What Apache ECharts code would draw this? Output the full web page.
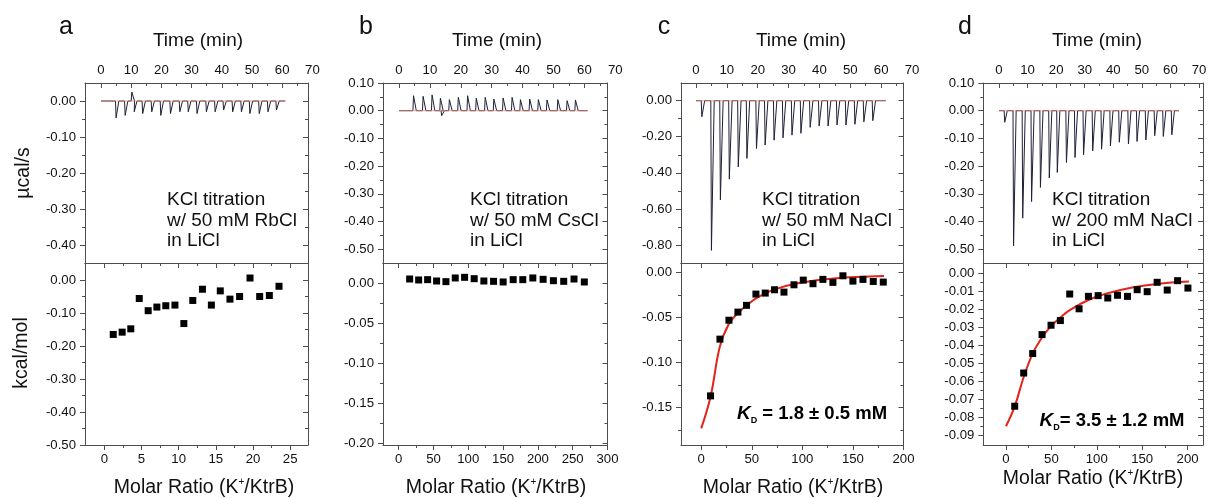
<!DOCTYPE html>
<html><head><meta charset="utf-8">
<script src="https://cdn.jsdelivr.net/npm/echarts@6/dist/echarts.min.js"></script>
<style>html,body{margin:0;padding:0;background:#fff}#c{width:1214px;height:498px}</style>
</head><body><div id="c"></div>
<script>
// ================= DATA =================
const timeLabels = [0, 10, 20, 30, 40, 50, 60, 70];
const timeMinor = [5, 15, 25, 35, 45, 55, 65];

// ---- panel a : KCl titration w/ 50 mM RbCl ----
const injTimeA = [4.9, 7.9, 10.1, 10.9, 13.7, 16.7, 19.7, 22.9, 26.0, 28.8, 31.7, 34.8, 37.7, 40.5, 43.5, 46.4, 49.2, 52.3, 55.2, 58.0];
const injPeakA = [-0.047, -0.040, 0.025, -0.030, -0.035, -0.030, -0.040, -0.035, -0.030, -0.030, -0.035, -0.030, -0.030, -0.025, -0.030, -0.030, -0.035, -0.035, -0.030, -0.025];
const traceEndA = 61;
const ratioA = [1.2, 2.4, 3.56, 4.7, 5.9, 7.07, 8.27, 9.5, 10.7, 11.9, 13.2, 14.4, 15.6, 16.9, 18.2, 19.6, 20.9, 22.2, 23.5];
const heatA = [-0.165, -0.158, -0.148, -0.056, -0.093, -0.082, -0.078, -0.076, -0.132, -0.062, -0.028, -0.076, -0.033, -0.058, -0.050, 0.006, -0.050, -0.047, -0.019];
const topYLabelsA = [0, -0.1, -0.2, -0.3, -0.4];
const topYMinorA = [-0.05, -0.15, -0.25, -0.35];
const botYLabelsA = [0, -0.1, -0.2, -0.3, -0.4, -0.5];
const botYMinorA = [-0.05, -0.15, -0.25, -0.35, -0.45];
const botXLabelsA = [0, 5, 10, 15, 20, 25];
const botXMinorA = [2.5, 7.5, 12.5, 17.5, 22.5];

// ---- panel b : KCl titration w/ 50 mM CsCl ----
const injTimeB = [4.6, 7.7, 10.6, 13.3, 13.7, 16.2, 19.1, 22.1, 24.9, 27.8, 30.6, 33.6, 36.5, 39.2, 42.2, 45.0, 47.8, 51.3, 54.3, 57.0];
const injPeakB = [0.054, 0.052, 0.057, 0.045, -0.018, 0.040, 0.048, 0.054, 0.045, 0.048, 0.042, 0.046, 0.048, 0.040, 0.042, 0.040, 0.039, 0.040, 0.036, 0.039];
const traceEndB = 61;
const ratioB = [15.8, 28.7, 41.6, 54.5, 67.9, 81.3, 94.7, 108.5, 122.4, 136.3, 150.1, 164.5, 178.3, 192.7, 207.5, 222.3, 237.1, 251.9, 266.7];
const heatB = [0.0054, 0.0042, 0.0046, 0.0029, 0.0021, 0.0067, 0.0075, 0.0058, 0.0029, 0.0025, 0.0017, 0.0046, 0.0046, 0.0067, 0.0050, 0.0033, 0.0025, 0.0054, 0.0017];
const topYLabelsB = [0.1, 0, -0.1, -0.2, -0.3, -0.4, -0.5];
const topYMinorB = [0.05, -0.05, -0.15, -0.25, -0.35, -0.45];
const botYLabelsB = [0, -0.05, -0.1, -0.15, -0.2];
const botYMinorB = [-0.025, -0.075, -0.125, -0.175];
const botXLabelsB = [0, 50, 100, 150, 200, 250, 300];
const botXMinorB = [25, 75, 125, 175, 225, 275];

// ---- panel c : KCl titration w/ 50 mM NaCl ----
const injTimeC = [1.8, 4.9, 7.8, 10.7, 13.6, 16.4, 19.5, 22.3, 25.2, 28.1, 31.0, 33.9, 36.9, 39.8, 42.7, 45.6, 48.5, 51.4, 54.3, 57.2];
const injPeakC = [-0.089, -0.83, -0.55, -0.435, -0.367, -0.32, -0.265, -0.246, -0.219, -0.206, -0.191, -0.181, -0.148, -0.141, -0.141, -0.135, -0.135, -0.131, -0.117, -0.111];
const traceEndC = 61.5;
const ratioC = [9.2, 18.5, 27.4, 36.3, 44.8, 54.1, 63.3, 72.5, 81.8, 91.7, 100.9, 110.5, 120.3, 130.2, 140.1, 150.0, 159.9, 170.1, 180.0];
const heatC = [-0.137, -0.074, -0.053, -0.044, -0.0365, -0.024, -0.0229, -0.0192, -0.0218, -0.0137, -0.0085, -0.0125, -0.0077, -0.011, -0.0037, -0.0096, -0.0077, -0.010, -0.0107];
const fitRatioC = [0, 9.2, 18.5, 27.4, 36.3, 45.5, 55.4, 71.9, 98, 131, 180.7];
const fitHeatC = [-0.173, -0.138, -0.082, -0.057, -0.045, -0.036, -0.028, -0.019, -0.0114, -0.0066, -0.004];
const topYLabelsC = [0, -0.2, -0.4, -0.6, -0.8];
const topYMinorC = [-0.1, -0.3, -0.5, -0.7];
const botYLabelsC = [0, -0.05, -0.1, -0.15];
const botYMinorC = [-0.025, -0.075, -0.125, -0.175];
const botXLabelsC = [0, 50, 100, 150, 200];
const botXMinorC = [25, 75, 125, 175];

// ---- panel d : KCl titration w/ 200 mM NaCl ----
const injTimeD = [1.9, 5.0, 8.2, 11.3, 14.4, 17.5, 20.3, 23.5, 26.5, 29.5, 32.7, 35.8, 38.9, 42.0, 45.2, 48.2, 51.3, 54.4, 57.4, 60.4];
const injPeakD = [-0.042, -0.488, -0.388, -0.328, -0.277, -0.243, -0.223, -0.187, -0.169, -0.159, -0.145, -0.139, -0.127, -0.114, -0.120, -0.111, -0.106, -0.090, -0.093, -0.087];
const traceEndD = 63;
const ratioD = [9.6, 19.5, 29.4, 39.7, 49.6, 59.9, 70.2, 80.5, 90.8, 101.5, 112.1, 122.8, 133.8, 144.5, 155.5, 166.5, 177.6, 189.0, 200.4];
const heatD = [-0.0737, -0.0553, -0.0445, -0.034, -0.0288, -0.0262, -0.0115, -0.0197, -0.0128, -0.0124, -0.0137, -0.0122, -0.0128, -0.0091, -0.0102, -0.0050, -0.0093, -0.0041, -0.0082];
const fitRatioD = [0, 9.6, 19.5, 29.4, 39.7, 49.6, 59.9, 70.2, 90.8, 112.1, 140.4, 166.2, 201.5];
const fitHeatD = [-0.0848, -0.0738, -0.0575, -0.0445, -0.0356, -0.0293, -0.0245, -0.0204, -0.0148, -0.0111, -0.0078, -0.0059, -0.0046];
const topYLabelsD = [0.1, 0, -0.1, -0.2, -0.3, -0.4, -0.5];
const topYMinorD = [0.05, -0.05, -0.15, -0.25, -0.35, -0.45];
const botYLabelsD = [0, -0.01, -0.02, -0.03, -0.04, -0.05, -0.06, -0.07, -0.08, -0.09];
const botYMinorD = [-0.005, -0.015, -0.025, -0.035, -0.045, -0.055, -0.065, -0.075, -0.085];
const botXLabelsD = [0, 50, 100, 150, 200];
const botXMinorD = [25, 75, 125, 175];

const letters = ['a', 'b', 'c', 'd'];
const notes = [
  'KCl titration\nw/ 50 mM RbCl\nin LiCl',
  'KCl titration\nw/ 50 mM CsCl\nin LiCl',
  'KCl titration\nw/ 50 mM NaCl\nin LiCl',
  'KCl titration\nw/ 200 mM NaCl\nin LiCl'
];

// ================= LAYOUT / STYLE =================
const FONT = '"Liberation Sans", Arial, sans-serif';
const AX = '#4d4d4d';
const TXT = '#111';
const TOP = 83, MID = 263, BOT = 445;

const panels = [
  {L: 85, R: 308, x0: 101, x70: 312.4, topY: [-0.45, 0.05], botY: [-0.5, 0.0515], botX: [-2.6, 27.4],
   timeTicks: [0,10,20,30,40,50,60],
   inj: injTimeA, peak: injPeakA, end: traceEndA, rx: ratioA, ry: heatA,
   tyl: topYLabelsA, tym: topYMinorA, byl: botYLabelsA, bym: botYMinorA, bxl: botXLabelsA, bxm: botXMinorA,
   letterX: 66, timeX: 198, molarX: 204, molarY: 488, noteX: 167},
  {L: 383, R: 607.5, x0: 399, x70: 615.3, topY: [-0.55, 0.1], botY: [-0.202, 0.0254], botX: [-22.5, 300],
   timeTicks: [0,10,20,30,40,50,60],
   inj: injTimeB, peak: injPeakB, end: traceEndB, rx: ratioB, ry: heatB,
   tyl: topYLabelsB, tym: topYMinorB, byl: botYLabelsB, bym: botYMinorB, bxl: botXLabelsB, bxm: botXMinorB,
   letterX: 366, timeX: 497, molarX: 496, molarY: 488, noteX: 470},
  {L: 681, R: 903.5, x0: 696, x70: 912, topY: [-0.9, 0.098], botY: [-0.1915, 0.0105], botX: [-20, 200],
   timeTicks: [0,10,20,30,40,50,60],
   inj: injTimeC, peak: injPeakC, end: traceEndC, rx: ratioC, ry: heatC, fx: fitRatioC, fy: fitHeatC,
   tyl: topYLabelsC, tym: topYMinorC, byl: botYLabelsC, bym: botYMinorC, bxl: botXLabelsC, bxm: botXMinorC,
   letterX: 664, timeX: 801, molarX: 793, molarY: 488, noteX: 762,
   kd: '1.8 ± 0.5 mM', kdEq: ' = ', kdX: 812, kdY: 414},
  {L: 983.3, R: 1203, x0: 999, x70: 1199, topY: [-0.55, 0.1], botY: [-0.0952, 0.0057], botX: [-25, 217],
   timeTicks: [0,10,20,30,40,50,60,70],
   inj: injTimeD, peak: injPeakD, end: traceEndD, rx: ratioD, ry: heatD, fx: fitRatioD, fy: fitHeatD,
   tyl: topYLabelsD, tym: topYMinorD, byl: botYLabelsD, bym: botYMinorD, bxl: botXLabelsD, bxm: botXMinorD,
   letterX: 965, timeX: 1097, molarX: 1093, molarY: 479, noteX: 1052,
   kd: '3.5 ± 1.2 mM', kdEq: '= ', kdX: 1112, kdY: 421}
];

const grids = [], xAxes = [], yAxes = [], series = [], graphics = [];

function addGrid(l, t, r, b) {
  grids.push({left: l, top: t, width: r - l, height: b - t});
  return grids.length - 1;
}
const fmt2 = v => (Math.abs(v) < 1e-9 ? 0 : v).toFixed(2);
const fmt0 = v => String(Math.round(v));

function addAxis(list, gridIndex, pos, min, max, o) {
  const idx = list.length;
  const ax = {
    type: 'value', gridIndex, position: pos, min, max, scale: true,
    axisLine: {show: !!o.line, onZero: false, lineStyle: {color: AX, width: 1}},
    axisTick: {show: !!o.majors, inside: !!o.inside, length: 5, lineStyle: {color: AX, width: 1}},
    axisLabel: {show: !!o.labels},
    splitLine: {show: false}, minorTick: {show: false}, minorSplitLine: {show: false}
  };
  if (o.majors) ax.axisTick.customValues = o.majors;
  if (o.labels) {
    ax.axisLabel = {show: true, customValues: o.labels, formatter: o.fmt, color: TXT,
      fontSize: 13.2, fontFamily: FONT, margin: o.margin, hideOverlap: false,
      showMinLabel: true, showMaxLabel: true};
  }
  list.push(ax);
  if (o.minors) {
    list.push({type: 'value', gridIndex, position: pos, min, max, scale: true,
      axisLine: {show: false, onZero: false}, axisLabel: {show: false},
      axisTick: {show: true, customValues: o.minors, inside: !!o.inside, length: 3, lineStyle: {color: AX, width: 1}},
      splitLine: {show: false}});
  }
  return idx;
}

function spikeTrace(times, peaks, end) {
  const pts = [[0, 0]];
  for (let i = 0; i < times.length; i++) {
    const t = times[i], p = peaks[i];
    pts.push([t - 0.1, 0], [t + 0.1, p], [t + 1.0, 0]);
  }
  pts.push([end, 0]);
  return pts;
}

panels.forEach((p, k) => {
  // ---------- top box ----------
  const gTop = addGrid(p.L, TOP, p.R, MID);
  addAxis(xAxes, gTop, 'top', 0, 1, {line: true});
  addAxis(xAxes, gTop, 'bottom', 0, 1, {line: true});
  addAxis(yAxes, gTop, 'left', p.topY[0], p.topY[1], {line: true, majors: p.tyl, minors: p.tym, labels: p.tyl, fmt: fmt2, margin: 9});
  addAxis(yAxes, gTop, 'right', p.topY[0], p.topY[1], {line: true, majors: p.tyl, minors: p.tym, inside: true});
  // ---------- time axis grid ----------
  const gTime = addGrid(p.x0, TOP, p.x70, MID);
  const xt = addAxis(xAxes, gTime, 'top', 0, 70, {line: false, majors: p.timeTicks, minors: timeMinor, inside: true, labels: timeLabels, fmt: fmt0, margin: 6});
  const yt = addAxis(yAxes, gTime, 'left', p.topY[0], p.topY[1], {line: false});
  series.push({type: 'line', xAxisIndex: xt, yAxisIndex: yt, data: spikeTrace(p.inj, p.peak, p.end),
    showSymbol: false, symbol: 'none', lineStyle: {color: '#1f1f38', width: 1}, silent: true, z: 3});
  series.push({type: 'line', xAxisIndex: xt, yAxisIndex: yt, data: [[0, 0], [p.end, 0]],
    showSymbol: false, symbol: 'none', lineStyle: {color: '#e8836f', width: 0.8, opacity: 0.9}, silent: true, z: 4});

  // ---------- bottom box ----------
  const gBot = addGrid(p.L, MID, p.R, BOT);
  const xb = addAxis(xAxes, gBot, 'bottom', p.botX[0], p.botX[1], {line: true, majors: p.bxl, minors: p.bxm, labels: p.bxl, fmt: fmt0, margin: 8});
  addAxis(xAxes, gBot, 'top', p.botX[0], p.botX[1], {line: true, majors: p.bxl, minors: p.bxm, inside: true});
  const yb = addAxis(yAxes, gBot, 'left', p.botY[0], p.botY[1], {line: true, majors: p.byl, minors: p.bym, labels: p.byl, fmt: fmt2, margin: 9});
  addAxis(yAxes, gBot, 'right', p.botY[0], p.botY[1], {line: true, majors: p.byl, minors: p.bym, inside: true});
  if (p.fx) {
    series.push({type: 'line', xAxisIndex: xb, yAxisIndex: yb, data: p.fx.map((x, i) => [x, p.fy[i]]),
      smooth: 0.4, showSymbol: false, symbol: 'none', lineStyle: {color: '#e3241b', width: 2}, silent: true, z: 3});
  }
  series.push({type: 'scatter', xAxisIndex: xb, yAxisIndex: yb, data: p.rx.map((x, i) => [x, p.ry[i]]),
    symbol: 'rect', symbolSize: 7, itemStyle: {color: '#000', opacity: 1}, silent: true, z: 4});

  // ---------- texts ----------
  graphics.push({type: 'text', x: p.letterX, y: 27, silent: true,
    style: {text: letters[k], fontSize: 25, fontFamily: FONT, fill: '#111', align: 'center', verticalAlign: 'middle'}});
  graphics.push({type: 'text', x: p.timeX, y: 41, silent: true,
    style: {text: 'Time (min)', fontSize: 19, fontFamily: FONT, fill: TXT, align: 'center', verticalAlign: 'middle'}});
  graphics.push({type: 'text', x: p.molarX, y: p.molarY, silent: true,
    style: {text: '{n|Molar Ratio (K}{s|+}{n|/KtrB)}', align: 'center', verticalAlign: 'middle',
      rich: {n: {fontSize: 19.5, fontFamily: FONT, fill: TXT, color: TXT, lineHeight: 22},
             s: {fontSize: 10, fontFamily: FONT, fill: TXT, color: TXT, verticalAlign: 'top', lineHeight: 22}}}});
  graphics.push({type: 'text', x: p.noteX, y: 189.5, silent: true,
    style: {text: notes[k], fontSize: 19, fontFamily: FONT, fill: TXT, lineHeight: 20.7, align: 'left', verticalAlign: 'top'}});
  if (p.kd) {
    graphics.push({type: 'text', x: p.kdX, y: p.kdY, silent: true,
      style: {text: '{k|K}{d|D}{t|' + p.kdEq + p.kd + '}', align: 'center', verticalAlign: 'middle',
        rich: {k: {fontSize: 19, fontStyle: 'italic', fontWeight: 'bold', fontFamily: FONT, color: TXT, lineHeight: 22},
               d: {fontSize: 9, fontWeight: 'bold', fontFamily: FONT, color: TXT, verticalAlign: 'bottom', lineHeight: 22},
               t: {fontSize: 18.5, fontWeight: 'bold', fontFamily: FONT, color: TXT, lineHeight: 22}}}});
  }
});

graphics.push({type: 'text', x: 24, y: 173, rotation: Math.PI / 2, silent: true,
  style: {text: 'µcal/s', fontSize: 19.5, fontFamily: FONT, fill: TXT, align: 'center', verticalAlign: 'middle'}});
graphics.push({type: 'text', x: 22, y: 353, rotation: Math.PI / 2, silent: true,
  style: {text: 'kcal/mol', fontSize: 19.5, fontFamily: FONT, fill: TXT, align: 'center', verticalAlign: 'middle'}});

const chart = echarts.init(document.getElementById('c'), null, {renderer: 'canvas'});
chart.setOption({
  animation: false,
  backgroundColor: '#fff',
  grid: grids, xAxis: xAxes, yAxis: yAxes, series, graphic: graphics
});
</script>
</body></html>
